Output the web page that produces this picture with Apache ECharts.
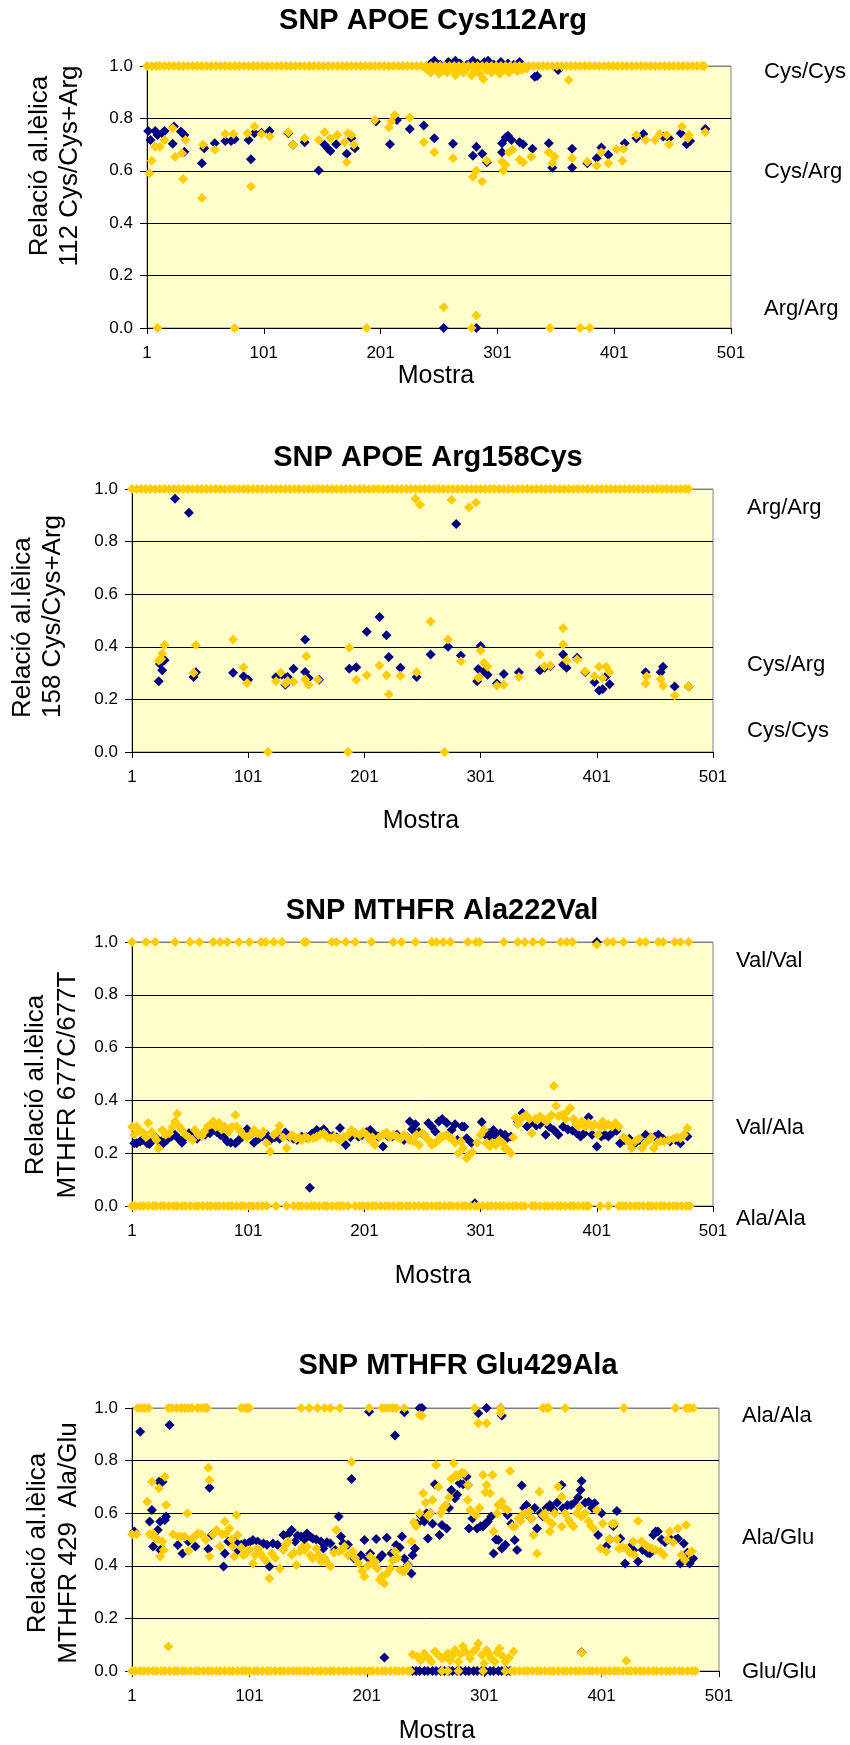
<!DOCTYPE html>
<html><head><meta charset="utf-8">
<script src="https://cdn.jsdelivr.net/npm/echarts@6/dist/echarts.min.js"></script>
<style>html,body{margin:0;padding:0;background:#fff}#c{width:850px;height:1745px}</style>
</head><body><div id="c"></div>
<script>
// ---------- DATA (sample number, allelic ratio) ----------
const xTickLabels = ['1','101','201','301','401','501'];

// Chart 1: SNP APOE Cys112Arg
const c1Navy = [[2,0.752],[4,0.718],[8,0.752],[10,0.737],[14,0.743],[16,0.752],[23,0.703],[24,0.769],[30,0.750],[33,0.737],[33,0.673],[48,0.629],[50,0.686],[59,0.705],[68,0.714],[73,0.714],[76,0.72],[88,0.718],[90,0.644],[93,0.743],[99,0.745],[106,0.752],[122,0.743],[126,0.699],[136,0.709],[148,0.601],[153,0.699],[156,0.684],[158,0.676],[163,0.701],[172,0.665],[176,0.724],[179,0.686],[197,0.788],[209,0.701],[215,0.794],[226,0.760],[238,0.773],[247,0.724],[263,0.703],[280,0.657],[283,0.692],[288,0.665],[292,0.633],[305,0.705],[305,0.671],[308,0.727],[310,0.734],[313,0.718],[320,0.709],[323,0.701],[331,0.684],[345,0.705],[348,0.612],[365,0.684],[365,0.612],[378,0.629],[386,0.648],[390,0.689],[396,0.661],[410,0.705],[420,0.724],[426,0.740],[443,0.731],[448,0.724],[458,0.743],[463,0.701],[466,0.714],[479,0.760],
  [244,1.01],[247,1.02],[252,1.005],[259,1.015],[265,1.02],[269,1.01],[275,1.005],[280,1.02],[284,1.01],[290,1.015],[293,1.02],[298,1.005],[304,1.015],[310,1.01],[315,1.005],[320,1.015],[333,0.959],[335,0.962],[353,0.985],[255,0],[283,0]];
const c1Gold = [[3,0.591],[5,0.638],[8,0.692],[12,0.692],[16,0.718],[23,0.762],[25,0.654],[31,0.667],[32,0.569],[34,0.718],[48,0.496],[49,0.699],[59,0.680],[68,0.740],[75,0.740],[87,0.743],[90,0.540],[93,0.769],[99,0.740],[106,0.731],[122,0.747],[126,0.699],[136,0.724],[148,0.718],[153,0.747],[158,0.724],[164,0.737],[170,0.709],[172,0.633],[173,0.743],[176,0.737],[178,0.699],[196,0.794],[208,0.765],[210,0.788],[213,0.813],[226,0.803],[238,0.709],[247,0.671],[263,0.648],[280,0.576],[283,0.600],[288,0.559],[292,0.638],[305,0.635],[306,0.601],[308,0.623],[311,0.671],[314,0.680],[320,0.642],[323,0.633],[330,0.654],[345,0.671],[348,0.629],[350,0.654],[365,0.648],[378,0.635],[386,0.620],[390,0.671],[396,0.629],[403,0.682],[409,0.684],[408,0.638],[420,0.737],[428,0.718],[436,0.718],[440,0.740],[446,0.737],[448,0.701],[459,0.769],[465,0.737],[464,0.724],[479,0.747],
  [241,0.985],[244,0.975],[248,0.99],[251,0.97],[255,0.985],[258,0.975],[262,0.99],[265,0.965],[268,0.98],[272,0.975],[275,0.99],[279,0.965],[282,0.98],[286,0.97],[289,0.95],[292,0.985],[296,0.975],[300,0.99],[303,0.97],[307,0.985],[311,0.975],[315,0.99],[318,0.98],[322,0.985],[326,0.99],[362,0.947],
  [10,0],[76,0],[189,0],[255,0.079],[279,0],[283,0.048],[346,0],[372,0],[380,0]];
const c1GoldTop = [1,5,9,12,16,20,24,28,32,36,40,44,48,52,56,60,64,68,72,76,80,84,88,92,96,100,104,108,112,116,120,124,128,132,136,140,144,148,152,156,160,164,168,172,176,180,184,188,192,196,200,204,208,212,216,220,224,228,232,236,240,244,248,252,256,260,264,268,272,276,280,284,288,292,296,300,304,308,312,316,320,324,328,332,336,340,344,348,352,356,360,364,368,372,376,380,384,388,392,396,400,404,408,412,416,420,424,428,432,436,440,444,448,452,456,460,464,468,472,476,478];

// Chart 2: SNP APOE Arg158Cys
const c2Navy = [[24,0.269],[27,0.311],[29,0.349],[25,0.335],[38,0.963],[50,0.910],[54,0.285],[56,0.303],[88,0.301],[97,0.288],[101,0.275],[125,0.285],[130,0.294],[133,0.256],[135,0.285],[140,0.317],[150,0.428],[150,0.304],[153,0.281],[162,0.275],[188,0.317],[194,0.322],[203,0.457],[214,0.513],[220,0.444],[222,0.361],[232,0.320],[246,0.285],[258,0.371],[273,0.400],[280,0.867],[284,0.367],[298,0.269],[299,0.316],[301,0.403],[304,0.307],[307,0.294],[315,0.260],[321,0.297],[334,0.303],[352,0.311],[356,0.320],[361,0.326],[372,0.371],[372,0.332],[375,0.320],[384,0.358],[391,0.304],[399,0.265],[403,0.234],[406,0.239],[409,0.288],[412,0.258],[443,0.303],[456,0.303],[458,0.324],[468,0.249],[480,0.249]];
const c2Gold = [[24,0.348],[26,0.354],[27,0.375],[29,0.407],[54,0.301],[56,0.407],[88,0.428],[97,0.322],[100,0.262],[118,0],[125,0.269],[129,0.301],[133,0.260],[135,0.270],[140,0.266],[151,0.364],[150,0.277],[153,0.256],[161,0.275],[187,0],[188,0.396],[194,0.275],[203,0.292],[214,0.329],[220,0.292],[222,0.220],[232,0.290],[245,0.963],[249,0.940],[246,0.303],[258,0.496],[270,0],[273,0.428],[276,0.959],[284,0.345],[291,0.931],[297,0.949],[299,0.281],[300,0.285],[301,0.386],[304,0.339],[307,0.324],[315,0.252],[321,0.256],[334,0.285],[352,0.371],[356,0.326],[361,0.329],[372,0.471],[372,0.409],[375,0.348],[384,0.352],[391,0.307],[399,0.288],[403,0.324],[406,0.281],[409,0.324],[412,0.303],[443,0.260],[444,0.288],[456,0.277],[458,0.252],[468,0.215],[480,0.249]];
const c2GoldTop = [1,5,9,13,17,21,25,29,33,37,41,45,49,53,57,61,65,69,73,77,81,85,89,93,97,101,105,109,113,117,121,125,129,133,137,141,145,149,153,157,161,165,169,173,177,181,185,189,193,197,201,205,209,213,217,221,225,229,233,237,241,245,249,253,257,261,265,269,273,277,281,285,289,293,297,301,305,309,313,317,321,325,329,333,337,341,345,349,353,357,361,365,369,373,377,381,385,389,393,397,401,405,409,413,417,421,425,429,433,437,441,445,449,453,457,461,465,469,473,477,480];

// Chart 3: SNP MTHFR Ala222Val
const c3Navy = [[3,0.238],[5,0.238],[8,0.244],[10,0.25],[14,0.238],[16,0.235],[18,0.244],[21,0.26],[23,0.25],[26,0.245],[28,0.238],[31,0.25],[35,0.263],[38,0.27],[41,0.255],[44,0.24],[47,0.26],[50,0.276],[53,0.262],[57,0.255],[61,0.266],[64,0.27],[68,0.276],[72,0.29],[74,0.28],[77,0.269],[80,0.26],[83,0.244],[86,0.24],[90,0.238],[93,0.25],[96,0.262],[100,0.291],[103,0.27],[106,0.24],[110,0.255],[113,0.263],[117,0.27],[120,0.25],[124,0.26],[128,0.255],[133,0.278],[136,0.262],[140,0.255],[143,0.25],[147,0.263],[151,0.26],[154,0.069],[156,0.275],[160,0.288],[163,0.28],[166,0.291],[170,0.27],[174,0.265],[177,0.26],[180,0.295],[185,0.231],[189,0.26],[193,0.275],[196,0.262],[199,0.269],[203,0.28],[206,0.288],[210,0.27],[213,0.262],[217,0.225],[221,0.265],[225,0.263],[229,0.27],[232,0.258],[235,0.25],[238,0.26],[240,0.32],[242,0.291],[245,0.31],[248,0.28],[252,0.27],[256,0.314],[259,0.3],[262,0.282],[265,0.32],[268,0.33],[272,0.314],[276,0.288],[279,0.31],[281,0.25],[285,0.301],[287,0.3],[289,0.257],[293,0.24],[296,0.01],[302,0.318],[305,0.27],[308,0.276],[310,0.26],[312,0.288],[315,0.265],[318,0.276],[320,0.25],[322,0.27],[324,0.258],[327,0.263],[333,0.32],[337,0.352],[341,0.301],[345,0.32],[349,0.305],[352,0.31],[357,0.27],[360,0.3],[364,0.288],[368,0.27],[372,0.3],[376,0.29],[380,0.286],[384,0.275],[387,0.263],[390,0.275],[394,0.336],[397,0.27],[401,0.225],[401,1.0],[405,0.263],[408,0.27],[411,0.263],[415,0.28],[418,0.285],[421,0.238],[425,0.25],[429,0.255],[434,0.238],[438,0.25],[443,0.27],[447,0.258],[451,0.262],[454,0.27],[458,0.255],[464,0.244],[469,0.25],[473,0.238],[479,0.263]];
const c3Gold = [[1,0.3],[3,0.27],[5,0.301],[8,0.285],[11,0.276],[13,0.26],[15,0.314],[18,0.28],[20,0.263],[22,0.25],[24,0.219],[27,0.288],[30,0.27],[33,0.276],[36,0.3],[38,0.32],[40,0.349],[42,0.3],[44,0.288],[47,0.27],[50,0.26],[53,0.25],[55,0.288],[58,0.27],[61,0.265],[63,0.28],[66,0.301],[69,0.31],[71,0.32],[73,0.3],[76,0.314],[78,0.29],[81,0.301],[84,0.28],[87,0.3],[90,0.345],[91,0.301],[94,0.285],[97,0.269],[100,0.26],[103,0.27],[106,0.288],[109,0.275],[112,0.27],[114,0.282],[117,0.238],[120,0.206],[123,0.27],[126,0.28],[128,0.304],[131,0.26],[134,0.219],[137,0.262],[139,0.269],[142,0.255],[145,0.26],[147,0.25],[150,0.262],[153,0.255],[157,0.257],[160,0.262],[163,0.27],[166,0.276],[169,0.26],[172,0.257],[175,0.262],[178,0.255],[180,0.25],[183,0.262],[187,0.27],[190,0.288],[193,0.275],[197,0.269],[200,0.28],[203,0.27],[206,0.25],[208,0.26],[210,0.231],[214,0.262],[217,0.27],[220,0.278],[223,0.26],[226,0.27],[229,0.263],[232,0.255],[235,0.27],[238,0.26],[240,0.25],[243,0.245],[246,0.27],[248,0.231],[251,0.276],[254,0.26],[256,0.25],[259,0.231],[262,0.24],[265,0.25],[267,0.262],[269,0.263],[272,0.27],[274,0.26],[276,0.257],[279,0.24],[282,0.2],[284,0.245],[286,0.22],[289,0.181],[291,0.195],[294,0.205],[298,0.24],[301,0.27],[304,0.288],[306,0.238],[309,0.226],[311,0.24],[314,0.231],[317,0.25],[320,0.24],[322,0.219],[324,0.215],[327,0.2],[329,0.26],[331,0.333],[333,0.31],[335,0.328],[337,0.335],[340,0.345],[343,0.33],[345,0.276],[348,0.33],[350,0.325],[352,0.339],[355,0.33],[358,0.32],[360,0.335],[362,0.345],[364,0.455],[366,0.38],[368,0.34],[371,0.345],[374,0.33],[376,0.36],[378,0.371],[381,0.33],[383,0.31],[385,0.301],[388,0.32],[391,0.3],[394,0.314],[397,0.3],[399,0.31],[401,0.99],[402,0.27],[404,0.3],[406,0.32],[408,0.301],[411,0.31],[414,0.3],[417,0.314],[420,0.3],[424,0.26],[427,0.25],[429,0.24],[431,0.219],[434,0.245],[437,0.255],[440,0.219],[443,0.24],[446,0.25],[448,0.26],[450,0.219],[453,0.24],[456,0.245],[459,0.244],[463,0.25],[467,0.255],[470,0.26],[473,0.257],[476,0.27],[479,0.295]];
const c3GoldTop = [1,13,21,38,51,59,71,77,83,93,102,112,116,123,130,149,151,173,177,185,193,207,226,233,245,259,263,269,275,290,297,300,321,333,339,346,354,370,375,380,410,415,424,438,443,454,458,468,473,480];
const c3GoldBottom = [1,4,8,11,15,19,22,26,29,33,37,40,44,47,51,55,58,62,66,69,73,76,80,84,87,91,95,98,102,105,109,113,117,125,134,140,144,147,151,155,158,162,166,169,173,177,180,183,187,193,197,200,204,208,211,215,219,222,226,230,233,237,240,244,248,252,255,259,263,266,270,274,277,281,285,288,292,296,299,303,307,310,314,318,321,325,329,332,336,339,345,348,352,356,359,363,367,370,374,378,381,385,389,392,394,404,411,420,423,426,430,434,437,441,445,448,452,456,459,463,467,470,474,478,481];

// Chart 4: SNP MTHFR Glu429Ala
const c4Navy = [[3,0.53],[16,0.568],[18,0.612],[19,0.473],[23,0.536],[24,0.72],[25,0.46],[25,0.568],[27,0.72],[29,0.574],[30,0.587],[40,0.479],[44,0.447],[49,0.492],[55,0.473],[66,0.464],[67,0.697],[69,0.517],[79,0.397],[80,0.447],[83,0.492],[86,0.49],[89,0.492],[91,0.46],[94,0.48],[97,0.485],[101,0.49],[104,0.498],[108,0.492],[113,0.485],[116,0.48],[118,0.397],[121,0.485],[125,0.48],[130,0.517],[134,0.52],[137,0.536],[140,0.492],[142,0.515],[145,0.511],[148,0.5],[150,0.523],[153,0.51],[155,0.504],[158,0.5],[162,0.492],[164,0.466],[167,0.49],[170,0.485],[174,0.46],[177,0.587],[179,0.511],[181,0.485],[185,0.48],[188,0.73],[190,0.43],[192,0.422],[196,0.44],[199,0.498],[202,0.43],[204,0.447],[207,0.42],[209,0.502],[212,0.43],[214,0.441],[216,0.051],[218,0.507],[222,0.447],[226,0.479],[229,0.47],[231,0.511],[233,0.428],[236,0.403],[239,0.371],[240,0.44],[242,0.466],[244,0.56],[247,0.59],[250,0.568],[252,0.6],[253,0.504],[255,0.6],[257,0.56],[259,0.71],[263,0.517],[265,0.555],[269,0.542],[271,0.62],[273,0.688],[276,0.657],[278,0.67],[280,0.714],[283,0.71],[286,0.739],[287,0.707],[288,0.542],[291,0.58],[295,0.542],[298,0.55],[300,0.549],[302,0.56],[304,0.568],[307,0.587],[309,0.447],[311,0.5],[313,0.498],[316,0.466],[319,0.48],[321,0.593],[324,0.56],[327,0.498],[329,0.46],[333,0.705],[335,0.62],[337,0.631],[341,0.58],[344,0.62],[346,0.542],[349,0.6],[351,0.587],[354,0.62],[357,0.631],[360,0.612],[363,0.64],[367,0.707],[368,0.619],[372,0.63],[375,0.631],[378,0.64],[381,0.66],[383,0.688],[384,0.722],[384,0.071],[387,0.64],[390,0.644],[393,0.62],[395,0.638],[398,0.517],[401,0.6],[405,0.473],[408,0.5],[411,0.55],[414,0.608],[417,0.504],[421,0.409],[425,0.47],[428,0.46],[432,0.416],[436,0.46],[440,0.45],[442,0.447],[445,0.517],[447,0.53],[449,0.53],[452,0.5],[455,0.49],[460,0.5],[464,0.5],[466,0.504],[468,0.409],[471,0.485],[474,0.45],[476,0.409],[479,0.428],
  [8,0.91],[33,0.935],[203,0.986],[225,0.895],[233,0.984],[246,0.999],[248,1.0],[296,0.98],[303,1.0],[315,1.0],[316,0.971]];
const c4NavyBottom = [240,243,246,250,253,257,260,264,267,271,274,278,281,285,288,292,295,299,302,306,309,313,316,320,323];
const c4Gold = [[1,0.52],[5,0.52],[14,0.644],[16,0.52],[18,0.72],[19,0.523],[21,0.504],[23,0.5],[24,0.695],[25,0.435],[27,0.492],[28,0.46],[29,0.739],[30,0.631],[36,0.52],[40,0.511],[43,0.511],[46,0.51],[48,0.6],[49,0.456],[52,0.5],[54,0.511],[57,0.523],[60,0.52],[64,0.498],[66,0.773],[67,0.726],[67,0.435],[70,0.52],[73,0.536],[76,0.473],[78,0.52],[80,0.568],[81,0.523],[84,0.542],[86,0.5],[87,0.473],[88,0.435],[90,0.593],[91,0.517],[94,0.47],[96,0.44],[98,0.447],[101,0.46],[104,0.409],[106,0.44],[108,0.466],[110,0.45],[113,0.431],[115,0.42],[118,0.352],[120,0.447],[123,0.43],[127,0.39],[130,0.46],[132,0.48],[134,0.492],[137,0.441],[139,0.45],[141,0.403],[144,0.454],[146,0.47],[148,0.46],[150,0.473],[153,0.44],[155,0.428],[158,0.466],[160,0.44],[162,0.416],[165,0.43],[168,0.41],[170,0.397],[173,0.45],[175,0.536],[177,0.454],[180,0.46],[182,0.473],[185,0.44],[188,0.796],[189,0.454],[191,0.43],[194,0.409],[197,0.38],[199,0.359],[202,0.4],[204,0.435],[206,0.41],[208,0.416],[210,0.39],[212,0.346],[214,0.36],[216,0.333],[218,0.37],[221,0.39],[223,0.42],[225,0.454],[227,0.43],[229,0.384],[231,0.38],[233,0.378],[236,0.4],[239,0.492],[241,0.565],[243,0.55],[246,0.6],[249,0.676],[251,0.64],[253,0.59],[255,0.6],[257,0.65],[260,0.783],[262,0.7],[264,0.6],[266,0.62],[268,0.63],[271,0.66],[273,0.73],[275,0.79],[277,0.745],[279,0.74],[282,0.755],[284,0.752],[287,0.707],[287,0.65],[289,0.612],[292,0.6],[294,0.593],[297,0.62],[300,0.745],[302,0.68],[303,0.707],[306,0.676],[308,0.745],[309,0.53],[312,0.6],[313,0.631],[316,0.644],[318,0.62],[321,0.612],[323,0.76],[325,0.55],[327,0.549],[330,0.58],[332,0.57],[334,0.593],[336,0.6],[339,0.606],[341,0.58],[343,0.517],[346,0.447],[348,0.682],[351,0.593],[353,0.6],[355,0.575],[357,0.53],[359,0.56],[361,0.6],[364,0.701],[367,0.663],[367,0.549],[370,0.6],[373,0.574],[375,0.56],[377,0.549],[380,0.6],[382,0.625],[384,0.587],[387,0.6],[390,0.568],[392,0.55],[394,0.542],[397,0.612],[400,0.466],[402,0.561],[405,0.454],[408,0.5],[410,0.56],[412,0.561],[414,0.5],[416,0.466],[419,0.47],[422,0.466],[425,0.45],[428,0.492],[429,0.441],[432,0.57],[435,0.492],[438,0.48],[441,0.47],[444,0.466],[447,0.46],[451,0.454],[454,0.441],[457,0.5],[459,0.53],[462,0.49],[466,0.542],[469,0.441],[472,0.422],[473,0.555],[476,0.45],[478,0.454],
  [246,0.973],[248,0.971],[296,0.942],[303,0.942],[315,0.98],
  [32,0.093],[240,0.063],[244,0.055],[247,0.04],[250,0.067],[253,0.05],[256,0.035],[259,0.074],[262,0.06],[265,0.048],[268,0.055],[270,0.067],[272,0.04],[274,0.058],[276,0.08],[279,0.035],[281,0.065],[283,0.093],[286,0.07],[289,0.048],[292,0.074],[294,0.085],[296,0.105],[299,0.061],[301,0.029],[303,0.08],[305,0.065],[307,0.048],[310,0.035],[312,0.07],[314,0.086],[317,0.055],[319,0.035],[322,0.05],[326,0.074],[384,0.07],[422,0.039]];
const c4GoldTop = [6,9,12,15,32,35,39,43,46,49,52,57,60,63,65,94,97,99,101,145,152,159,165,170,178,203,214,217,220,223,226,233,293,315,351,354,356,370,420,464,473,476,479];
const c4GoldBottom = [1,4,8,11,15,19,22,26,29,33,37,40,44,47,51,55,58,62,66,69,73,76,80,84,87,91,95,98,101,105,108,112,116,119,123,127,130,134,138,141,144,148,151,155,159,162,166,170,173,177,181,184,188,192,195,199,203,206,210,214,217,221,225,228,232,236,238,265,270,279,300,319,324,327,331,335,338,342,346,349,353,357,360,364,368,371,375,379,382,386,390,393,397,401,404,408,412,415,419,423,426,430,434,437,441,445,448,452,456,459,463,467,470,474,478,481];

// ---------- TEXTS ----------
const titles = ['SNP APOE Cys112Arg','SNP APOE Arg158Cys','SNP MTHFR Ala222Val','SNP MTHFR Glu429Ala'];
const yNames = ['Relació al.lèlica\n112 Cys/Cys+Arg','Relació al.lèlica\n158 Cys/Cys+Arg','Relació al.lèlica\nMTHFR 677C/677T','Relació al.lèlica\nMTHFR 429  Ala/Glu'];
const xName = 'Mostra';
const genoLabels = [['Cys/Cys','Cys/Arg','Arg/Arg'],['Arg/Arg','Cys/Arg','Cys/Cys'],['Val/Val','Val/Ala','Ala/Ala'],['Ala/Ala','Ala/Glu','Glu/Glu']];

// ---------- BUILD ----------
const FONT = '"Liberation Sans", Arial, sans-serif';
const NAVY = '#000080', GOLD = '#FFCC00';
const pts = a => a.map(p => [p[0] - 1, p[1]]);
const row = (xs, v) => xs.map(x => [x - 1, v]);

const grids = [
  {left:147, top:66, width:584, height:262},
  {left:132, top:489, width:581, height:263},
  {left:132, top:942, width:581, height:264},
  {left:132, top:1408, width:587, height:263}
];
const navyData = [
  pts(c1Navy), pts(c2Navy), pts(c3Navy), pts(c4Navy).concat(row(c4NavyBottom, 0))
];
const goldData = [
  pts(c1Gold).concat(row(c1GoldTop, 1)),
  pts(c2Gold).concat(row(c2GoldTop, 1)),
  pts(c3Gold).concat(row(c3GoldTop, 1), row(c3GoldBottom, 0)),
  pts(c4Gold).concat(row(c4GoldTop, 1), row(c4GoldBottom, 0))
];

const layoutText = {
  title: [[433,21],[428,458],[442,911],[458,1366]],
  mostra: [[436,376],[421,821],[433,1276],[437,1731]],
  // [x centre of the two lines, anchor y, line height, alignment along the rotated text]
  yname: [[55,166,30,'center'],[38,718,30,'left'],[51.5,1085,32,'center'],[53,1543,31,'center']],
  genoX: [764,747,736,742],
  genoY: [[72,172,309],[508,665,731],[961,1128,1219],[1416,1538,1672]]
};

const xAxes = [], yAxes = [], series = [], graphics = [];
grids.forEach((g, i) => {
  Object.assign(g, {show:true, backgroundColor:'#FFFFCC', borderColor:'#808080', borderWidth:1, containLabel:false});
  xAxes.push({gridIndex:i, type:'value', min:0, max:500, interval:100,
    axisLine:{show:true, onZero:false, lineStyle:{color:'#000', width:1}},
    axisTick:{show:true, inside:false, length:6, lineStyle:{color:'#000'}},
    axisLabel:{margin:17, fontSize:17, color:'#000', fontFamily:FONT, formatter:v => xTickLabels[Math.round(v/100)]},
    splitLine:{show:false}});
  yAxes.push({gridIndex:i, type:'value', min:0, max:1, interval:0.2,
    axisLine:{show:true, onZero:false, lineStyle:{color:'#000', width:1}},
    axisTick:{show:true, inside:false, length:7, lineStyle:{color:'#000'}},
    axisLabel:{margin:14, fontSize:17, color:'#000', fontFamily:FONT, formatter:v => v.toFixed(1)},
    splitLine:{show:true, lineStyle:{color:['#000','#000','#000','#000','#000','#808080'], width:1}}});
  series.push({type:'scatter', xAxisIndex:i, yAxisIndex:i, symbol:'diamond', symbolSize:10, clip:false, silent:true,
    itemStyle:{color:NAVY, opacity:1}, data:navyData[i]});
  series.push({type:'scatter', xAxisIndex:i, yAxisIndex:i, symbol:'diamond', symbolSize:10, clip:false, silent:true,
    itemStyle:{color:GOLD, opacity:1}, data:goldData[i]});

  const t = layoutText.title[i];
  graphics.push({type:'text', x:t[0], y:t[1], style:{text:titles[i], fill:'#000', font:'bold 29px ' + FONT, align:'center', verticalAlign:'middle'}});
  const m = layoutText.mostra[i];
  graphics.push({type:'text', x:m[0], y:m[1], style:{text:xName, fill:'#000', font:'25px ' + FONT, align:'center', verticalAlign:'middle'}});
  const yn = layoutText.yname[i];
  graphics.push({type:'text', x:yn[0], y:yn[1], rotation:Math.PI/2, style:{text:yNames[i], fill:'#000', font:'26px ' + FONT, lineHeight:yn[2], align:yn[3], verticalAlign:'middle'}});
  genoLabels[i].forEach((lab, k) => {
    graphics.push({type:'text', x:layoutText.genoX[i], y:layoutText.genoY[i][k], style:{text:lab, fill:'#000', font:'22px ' + FONT, align:'left', verticalAlign:'middle'}});
  });
});

const chart = echarts.init(document.getElementById('c'), null, {renderer:'canvas'});
chart.setOption({
  animation:false,
  backgroundColor:'#ffffff',
  grid:grids, xAxis:xAxes, yAxis:yAxes, series:series, graphic:graphics
});
</script></body></html>
